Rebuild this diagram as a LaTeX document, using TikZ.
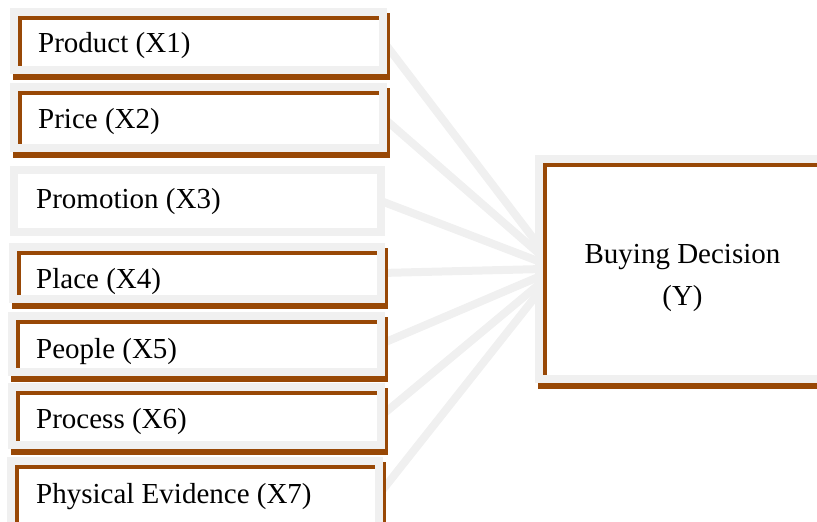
\documentclass[tikz,border=0pt]{standalone}
\usepackage{fontspec}
\setmainfont{Liberation Serif}
\usetikzlibrary{calc,backgrounds}
\definecolor{brn}{RGB}{152,72,6}
\definecolor{gry}{RGB}{240,240,240}
\begin{document}
\begin{tikzpicture}[x=1pt,y=-1pt,
  frame/.style={draw=gry,line width=8pt,fill=white,rectangle,inner sep=0pt,outer sep=0pt},
  brtop/.style={draw=brn,line width=4pt},
  brleft/.style={draw=brn,line width=3.5pt},
  brbottom/.style={draw=brn,line width=5.5pt},
  brright/.style={draw=brn,line width=3pt},
  link/.style={draw=gry,line width=8pt},
  lbl/.style={anchor=base west,inner sep=0pt,font=\fontsize{29}{34}\selectfont},
  ylbl/.style={anchor=base,inner sep=0pt,font=\fontsize{29}{34}\selectfont}]
\clip (0,0) rectangle (817,522);
\useasboundingbox (0,0) rectangle (817,522);
\foreach \n/\xa/\ya/\xb/\yb/\br in {
  b1/10/8/387/74/1,
  b2/10/83/387/152/1,
  b3/10/166/385/236/0,
  b4/9/243/385/303/1,
  b5/8/312/385/376/1,
  b6/8/383/385/449/1,
  b7/7/457/383/532/1,
  Y/535/155/860/383/1}{
  \pgfmathsetmacro\cx{(\xa+\xb)/2}
  \pgfmathsetmacro\cy{(\ya+\yb)/2}
  \pgfmathsetmacro\w{\xb-\xa-8}
  \pgfmathsetmacro\h{\yb-\ya-8}
  \node[frame,minimum width=\w pt,minimum height=\h pt] (\n) at (\cx,\cy) {};
  \ifnum\br=1
    \draw[brtop] ($(\n.north west)+(4,6)$) -- ($(\n.north east)+(-4,6)$);
    \draw[brleft] ($(\n.north west)+(5.75,4)$) -- ($(\n.south west)+(5.75,-4)$);
    \draw[brbottom] ($(\n.south west)+(-1,6.75)$) -- ($(\n.south east)+(6.5,6.75)$);
    \draw[brright] ($(\n.north east)+(5.5,1)$) -- ($(\n.south east)+(5.5,10)$);
  \fi
}
\node[lbl] (t1) at (38,52) {Product (X1)};
\node[lbl] (t2) at (38,128) {Price (X2)};
\node[lbl] (t3) at (36,208) {Promotion (X3)};
\node[lbl] (t4) at (36,288) {Place (X4)};
\node[lbl] (t5) at (36,358) {People (X5)};
\node[lbl] (t6) at (36,428) {Process (X6)};
\node[lbl] (t7) at (36,503) {Physical Evidence (X7)};
\node[ylbl] (ty1) at (682.5,263) {Buying Decision};
\node[ylbl] (ty2) at (682.5,305) {(Y)};
\begin{scope}[on background layer]
  \foreach \n/\dy in {b1/-18,b2/-12,b3/-6,b4/0,b5/6,b6/12,b7/18}
    \draw[link] (\n.east) -- ([xshift=4pt,yshift=-\dy pt]Y.west);
\end{scope}
\end{tikzpicture}
\end{document}
